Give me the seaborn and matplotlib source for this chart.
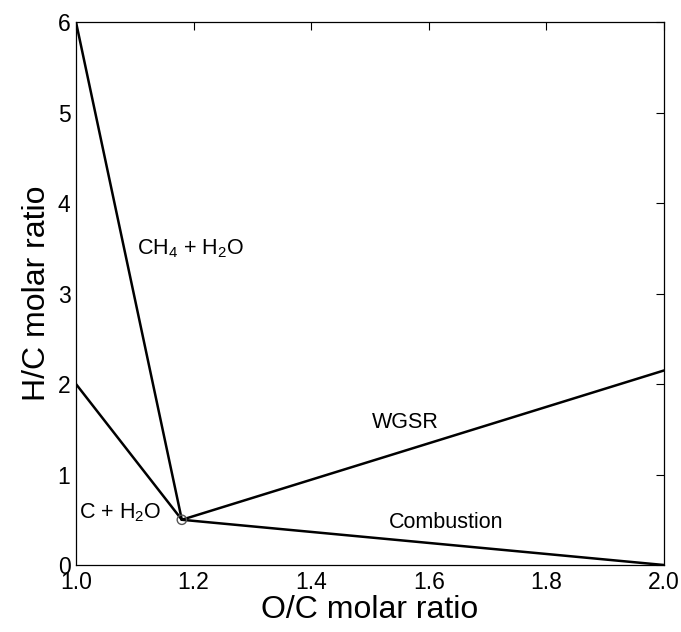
import numpy as np
import pandas as pd
import matplotlib
matplotlib.use('Agg')
import matplotlib.pyplot as plt
import seaborn as sns

# ─────────────────────────────────────────
# DATA — boundary lines in the O/C vs H/C plane
# ─────────────────────────────────────────
ch4_oc   = [1.0, 1.18]
ch4_hc   = [6.0, 0.5]
carb_oc  = [1.0, 1.18]
carb_hc  = [2.0, 0.5]
wgsr_oc  = [1.18, 2.0]
wgsr_hc  = [0.5, 2.15]
comb_oc  = [1.18, 2.0]
comb_hc  = [0.5, 0.0]
point_oc = [1.18]
point_hc = [0.5]

x_ticks = [1.0, 1.2, 1.4, 1.6, 1.8, 2.0]
y_ticks = [0, 1, 2, 3, 4, 5, 6]

sns.set_style('white')
plt.rcParams['font.family'] = ['Liberation Sans', 'DejaVu Sans']
plt.rcParams['mathtext.fontset'] = 'custom'
plt.rcParams['mathtext.rm'] = 'Liberation Sans'
plt.rcParams['mathtext.it'] = 'Liberation Sans'
plt.rcParams['text.color'] = 'black'
plt.rcParams['axes.labelcolor'] = 'black'
plt.rcParams['xtick.color'] = 'black'
plt.rcParams['ytick.color'] = 'black'

fig = plt.figure(figsize=(6.81, 6.32), dpi=100)
ax = fig.add_axes([0.1116, 0.106, 0.8634, 0.859])

segments = [
    ('CH4', ch4_oc, ch4_hc),
    ('C', carb_oc, carb_hc),
    ('WGSR', wgsr_oc, wgsr_hc),
    ('Comb', comb_oc, comb_hc),
]
for name, xs, ys in segments:
    df = pd.DataFrame({'oc': xs, 'hc': ys})
    sns.lineplot(data=df, x='oc', y='hc', sort=False, color='black',
                 linewidth=1.8, ax=ax)

sns.scatterplot(x=point_oc, y=point_hc, ax=ax, s=45, facecolor='none',
                edgecolor='#555555', linewidth=1.0, zorder=5)

ann = 15.5
ax.text(1.103, 3.5, r'CH$_4$ + H$_2$O', fontsize=ann, va='center', ha='left')
ax.text(1.56, 1.57, 'WGSR', fontsize=ann, va='center', ha='center')
ax.text(1.63, 0.47, 'Combustion', fontsize=ann, va='center', ha='center')
ax.text(1.005, 0.58, r'C + H$_2$O', fontsize=ann, va='center', ha='left')

ax.set_xlim(1.0, 2.0)
ax.set_ylim(0, 6)
ax.set_xticks(x_ticks)
ax.set_xticklabels([f'{t:.1f}' for t in x_ticks])
ax.set_yticks(y_ticks)
ax.tick_params(direction='in', length=6, width=0.8, top=True, right=True,
               labelsize=16.5, pad=4)
for s in ax.spines.values():
    s.set_visible(True)
    s.set_linewidth(0.9)
    s.set_color('black')

ax.set_xlabel('O/C molar ratio', fontsize=23, labelpad=1)
ax.set_ylabel('H/C molar ratio', fontsize=23, labelpad=4)

fig.savefig('out.png', dpi=100, facecolor='white')
